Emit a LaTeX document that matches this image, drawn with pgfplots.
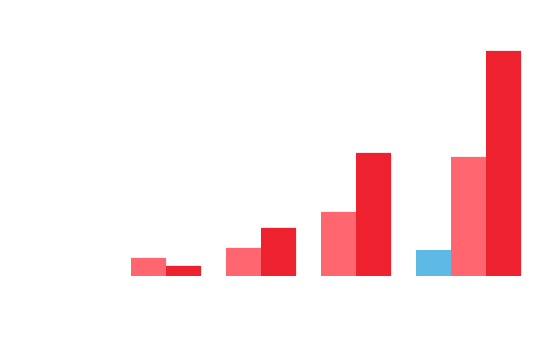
\documentclass[border=0pt]{standalone}
\usepackage{pgfplots}
\pgfplotsset{compat=1.18}
\definecolor{cblue}{RGB}{94,186,228}
\definecolor{cpink}{RGB}{255,102,112}
\definecolor{cred}{RGB}{238,33,46}
\begin{document}
\begin{tikzpicture}
\begin{axis}[
  scale only axis,
  width=5.55in, height=3.54in,
  xmin=0, xmax=555, ymin=-78, ymax=276,
  hide axis,
  ybar, bar width=35, bar shift=0pt,
  clip=false,
]
\path (rel axis cs:0,0) rectangle (rel axis cs:1,1);
\addplot[fill=cblue, draw=none] coordinates {(433.5,26)};
\addplot[fill=cpink, draw=none] coordinates {(148.5,18) (243.5,28) (338.5,64) (468.5,119)};
\addplot[fill=cred, draw=none] coordinates {(183.5,10) (278.5,48) (373.5,123) (503.5,225)};
\end{axis}
\end{tikzpicture}
\end{document}
